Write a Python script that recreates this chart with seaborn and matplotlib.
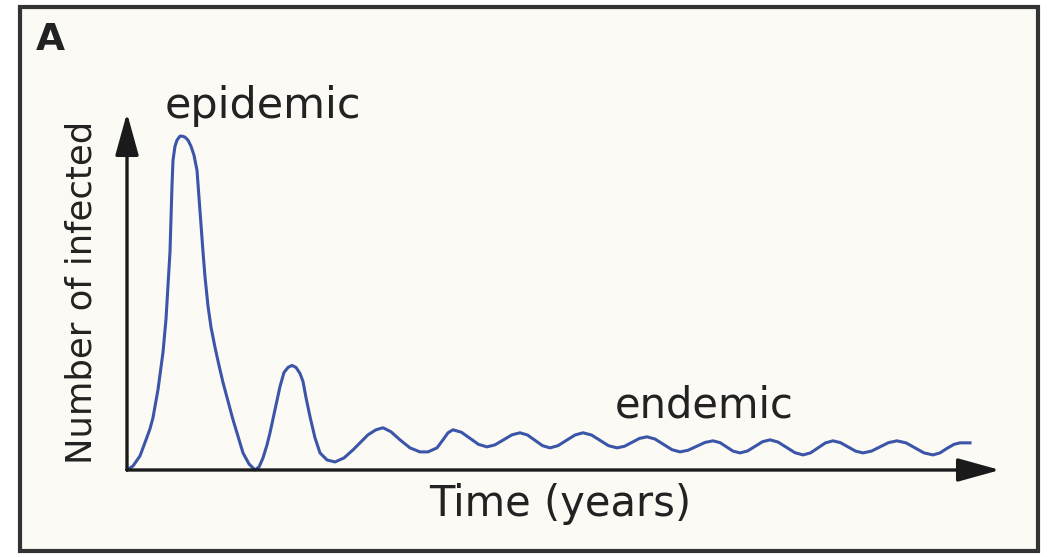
import matplotlib
matplotlib.use("Agg")
import matplotlib.pyplot as plt
from matplotlib.patches import Rectangle
import seaborn as sns
import pandas as pd

# ---- data (arbitrary units) ----
time_years = [
    0.0, 0.6, 1.3, 1.9, 2.3, 2.6, 3.1, 3.6, 3.9, 4.1, 4.3, 4.4, 4.5, 4.6, 4.8, 5.0, 5.3, 5.5,
    5.8, 6.1, 6.4, 6.7, 7.0, 7.3, 7.6, 7.8, 8.1, 8.4, 8.8, 9.2, 9.6, 10.6, 11.6, 12.2, 12.8,
    13.2, 13.6,
    14.0, 14.3, 14.8, 15.3, 15.7, 16.1, 16.5, 16.9, 17.3, 17.6, 17.9, 18.3, 18.8, 19.3,
    20.0, 20.8, 21.7, 22.6, 23.4, 24.1, 24.9, 25.6, 26.4, 27.3, 28.3, 29.3, 30.1, 31.0,
    31.6, 32.1, 32.6,
    33.45, 34.3, 35.15, 36.0, 36.8, 37.65, 38.5, 39.3,
    40.05, 40.8, 41.55, 42.3, 43.1, 43.95, 44.8, 45.6,
    46.45, 47.3, 48.15, 49.0, 49.75, 50.5, 51.25, 52.0,
    52.8, 53.65, 54.5, 55.3, 56.1, 56.95, 57.8, 58.6,
    59.3, 59.95, 60.6, 61.3, 62.05, 62.8, 63.55, 64.3,
    65.1, 65.95, 66.8, 67.6, 68.35, 69.1, 69.85, 70.6,
    71.35, 72.1, 72.85, 73.6, 74.45, 75.3, 76.15, 77.0,
    77.9, 78.8, 79.7, 80.6, 81.3, 82.0, 82.7, 83.3, 84.3,
]
infected = [
    0, 4, 14, 30, 41, 52, 80, 117, 150, 183, 217, 250, 283, 308, 322, 328, 332, 332,
    331, 328, 322, 313, 298, 257, 217, 192, 163, 142, 122, 104, 87, 50, 17, 6, 0,
    3, 12,
    25, 37, 60, 83, 97, 102, 104, 102, 96, 88, 72, 53, 32, 17,
    10, 8, 12, 20, 28, 35, 40, 42, 38, 30, 22, 18, 18, 22,
    30, 37, 40,
    37.5, 31.5, 25.5, 23, 25, 30, 35, 37,
    34.8, 29.5, 24.2, 22, 24.2, 29.5, 34.8, 37,
    34.8, 29.5, 24.2, 22, 23.6, 27.5, 31.4, 33,
    30.8, 25.5, 20.2, 18, 19.6, 23.5, 27.4, 29,
    27.2, 23, 18.8, 17, 18.9, 23.5, 28.1, 30,
    27.8, 22.5, 17.2, 15, 17, 22, 27, 29,
    27.2, 23, 18.8, 17, 18.8, 23, 27.2, 29,
    27, 22, 17, 15, 17, 21.5, 25.5, 27, 27,
]
x_label = "Time (years)"
y_label = "Number of infected"
annotations = ["epidemic", "endemic"]
panel_label = "A"

df = pd.DataFrame({"time": time_years, "infected": infected})

# ---- figure ----
W, H = 1048, 557
fig = plt.figure(figsize=(W / 100, H / 100), dpi=100, facecolor="white")

def fx(px):
    return px / W

def fy(py):
    return 1 - py / H

cream = "#FCFAF4"
fig.patches.append(Rectangle((fx(20), fy(551)), fx(1038) - fx(20), fy(7) - fy(551),
                             transform=fig.transFigure, facecolor=cream,
                             edgecolor="#333333", linewidth=3, zorder=-10))

x0, y0, x1, y1 = 127, 470, 1000, 113
ax = fig.add_axes([fx(x0), fy(y0), fx(x1) - fx(x0), fy(y1) - fy(y0)])
ax.set_zorder(1)
ax.patch.set_alpha(0)
sns.lineplot(data=df, x="time", y="infected", ax=ax, color="#3B55A8",
             linewidth=2.2, clip_on=False)
ax.set_xlim(0, (x1 - x0) / 10)
ax.set_ylim(0, 355)
ax.axis("off")

arrow_kw = dict(arrowstyle="-|>,head_length=0.65,head_width=0.18",
                mutation_scale=40, color="#1a1a1a", lw=2.4,
                shrinkA=0, shrinkB=0)
ax.annotate("", xy=(1, 0), xytext=(0, 0), xycoords="axes fraction",
            textcoords="axes fraction", arrowprops=arrow_kw, annotation_clip=False)
ax.annotate("", xy=(0, 1), xytext=(0, 0), xycoords="axes fraction",
            textcoords="axes fraction", arrowprops=arrow_kw, annotation_clip=False)

font = "DejaVu Sans"
tc = "#222222"
fig.text(fx(36), fy(50), panel_label, fontsize=27, fontweight="bold",
         family=font, color=tc, ha="left", va="baseline")
fig.text(fx(165), fy(118), annotations[0], fontsize=31, family=font, color=tc,
         ha="left", va="baseline")
fig.text(fx(615), fy(418), annotations[1], fontsize=30, family=font, color=tc,
         ha="left", va="baseline")
fig.text(fx(560), fy(516), x_label, fontsize=30, family=font, color=tc,
         ha="center", va="baseline")
fig.text(fx(82), fy(292), y_label, fontsize=25.5, family=font, color=tc,
         ha="center", va="center", rotation=90)

fig.savefig("out.png", dpi=100, facecolor=fig.get_facecolor())
